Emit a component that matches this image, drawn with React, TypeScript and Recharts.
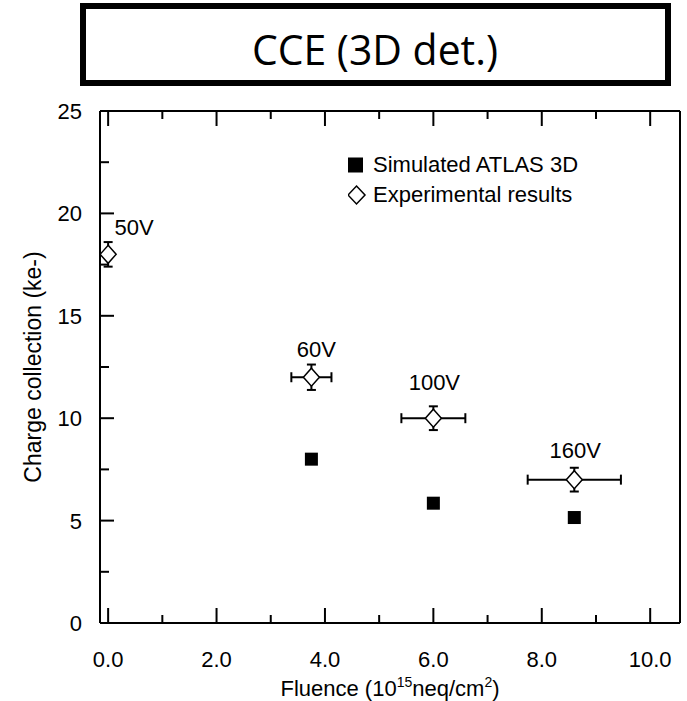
import React from 'react';
import { ScatterChart, Scatter, XAxis, YAxis, ErrorBar, Legend, Label } from 'recharts';

// simulated (ATLAS 3D)
const SIM_FLUENCE = [3.75, 6.0, 8.6];
const SIM_CHARGE = [8.0, 5.85, 5.15];

// measured
const EXP_FLUENCE = [0, 3.75, 6.0, 8.6];
const EXP_CHARGE = [18.0, 12.0, 10.0, 7.0];
const EXP_FLUENCE_ERR = [0, 0.37, 0.59, 0.86];
const EXP_CHARGE_ERR = [0.6, 0.62, 0.58, 0.58];
const BIAS_LABELS = ['50V', '60V', '100V', '160V'];

const X_TICKS = [0, 1, 2, 3, 4, 5, 6, 7, 8, 9, 10];
const Y_TICKS = [0, 2.5, 5, 7.5, 10, 12.5, 15, 17.5, 20, 22.5, 25];

const SERIES_NAMES = ['Simulated ATLAS 3D', 'Experimental results'];

// label offsets (px) from the marker centre
const LABEL_OFFSETS = [
  [26, -27],
  [5, -28],
  [1, -36],
  [1, -30],
];

const FONT = '"Liberation Sans", Arial, sans-serif';
const FS = 22;

const simData = SIM_FLUENCE.map((x, i) => ({ x, y: SIM_CHARGE[i] }));
const expData = EXP_FLUENCE.map((x, i) => ({
  x,
  y: EXP_CHARGE[i],
  xErr: EXP_FLUENCE_ERR[i],
  yErr: EXP_CHARGE_ERR[i],
  label: BIAS_LABELS[i],
  idx: i,
}));

const fmtX = (v: number) => v.toFixed(1);

function BottomTick({ x, y, payload }: any) {
  const major = payload.value % 2 === 0;
  return (
    <g>
      <line x1={x} x2={x} y1={y} y2={y - (major ? 15 : 8)} stroke="#000" strokeWidth={2} />
      {major && (
        <text x={x} y={y + 44} textAnchor="middle" fontSize={FS} fontFamily={FONT} fill="#000">
          {fmtX(payload.value)}
        </text>
      )}
    </g>
  );
}

function TopTick({ x, y, payload }: any) {
  const major = payload.value % 2 === 0;
  return <line x1={x} x2={x} y1={y} y2={y + (major ? 15 : 8)} stroke="#000" strokeWidth={2} />;
}

function LeftTick({ x, y, payload }: any) {
  const major = payload.value % 5 === 0;
  return (
    <g>
      <line x1={x} x2={x + (major ? 14 : 9)} y1={y} y2={y} stroke="#000" strokeWidth={2} />
      {major && (
        <text x={x - 18} y={y + 8} textAnchor="end" fontSize={FS} fontFamily={FONT} fill="#000">
          {payload.value}
        </text>
      )}
    </g>
  );
}

function RightTick({ x, y, payload }: any) {
  const major = payload.value % 5 === 0;
  return <line x1={x} x2={x - (major ? 14 : 9)} y1={y} y2={y} stroke="#000" strokeWidth={2} />;
}

function SquareShape({ cx, cy }: any) {
  return <rect x={cx - 6.5} y={cy - 6.5} width={13} height={13} fill="#000" />;
}

function DiamondShape({ cx, cy, payload }: any) {
  const [dx, dy] = LABEL_OFFSETS[payload.idx];
  return (
    <g>
      <polygon
        points={`${cx},${cy - 9} ${cx + 8},${cy} ${cx},${cy + 9} ${cx - 8},${cy}`}
        fill="#fff"
        stroke="#000"
        strokeWidth={1.5}
      />
      <text
        x={cx + dx}
        y={cy + dy + 8}
        textAnchor="middle"
        fontSize={FS}
        fontFamily={FONT}
        fill="#000"
      >
        {payload.label}
      </text>
    </g>
  );
}

function LegendBox() {
  return (
    <div style={{ fontFamily: FONT, fontSize: FS, color: '#000', lineHeight: '30px', whiteSpace: 'nowrap' }}>
      <div style={{ display: 'flex', alignItems: 'center', height: 30 }}>
        <svg width={25} height={30}>
          <rect x={0} y={7.5} width={15} height={15} fill="#000" />
        </svg>
        <span>{SERIES_NAMES[0]}</span>
      </div>
      <div style={{ display: 'flex', alignItems: 'center', height: 30 }}>
        <svg width={25} height={30}>
          <polygon points="8.5,6 17,15 8.5,24 0,15" fill="#fff" stroke="#000" strokeWidth={1.5} />
        </svg>
        <span>{SERIES_NAMES[1]}</span>
      </div>
    </div>
  );
}

function XTitle({ viewBox }: any) {
  const cx = viewBox.x + viewBox.width / 2;
  return (
    <text x={cx} y={viewBox.y + 73} textAnchor="middle" fontSize={FS} fontFamily={FONT} fill="#000">
      Fluence (10
      <tspan fontSize={14} dy={-9}>15</tspan>
      <tspan dy={9}>neq/cm</tspan>
      <tspan fontSize={14} dy={-9}>2</tspan>
      <tspan dy={9}>)</tspan>
    </text>
  );
}

function YTitle({ viewBox }: any) {
  const cy = viewBox.y + viewBox.height / 2;
  return (
    <text
      x={33}
      y={cy}
      transform={`rotate(-90, 33, ${cy})`}
      textAnchor="middle"
      dominantBaseline="central"
      fontSize={23}
      fontFamily={FONT}
      fill="#000"
    >
      Charge collection (ke-)
    </text>
  );
}

export default function App() {
  return (
    <div style={{ position: 'absolute', left: 0, top: 0, width: 687, height: 701, background: '#fff' }}>
      <div
        style={{
          position: 'absolute',
          left: 80,
          top: 3,
          width: 591,
          height: 83,
          border: '6px solid #000',
          boxSizing: 'border-box',
        }}
      />
      <svg style={{ position: 'absolute', left: 0, top: 0 }} width={687} height={90}>
        <text
          x={375}
          y={65}
          textAnchor="middle"
          fontSize={42}
          fontFamily='"Open Sans", "Noto Sans", sans-serif'
          textLength={246}
          lengthAdjust="spacingAndGlyphs"
          fill="#000"
        >
          CCE (3D det.)
        </text>
      </svg>
      <div style={{ position: 'absolute', left: 0, top: 90 }}>
        <ScatterChart width={687} height={611} margin={{ top: 11, right: 0, bottom: 0, left: 0 }}>
          <XAxis
            xAxisId="b"
            type="number"
            dataKey="x"
            domain={[-0.15, 10.55]}
            ticks={X_TICKS}
            interval={0}
            height={78}
            tickSize={0}
            tickMargin={0}
            tickLine={false}
            axisLine={{ stroke: '#000', strokeWidth: 2 }}
            tick={<BottomTick />}
            allowDataOverflow
          >
            <Label content={<XTitle />} />
          </XAxis>
          <XAxis
            xAxisId="t"
            orientation="top"
            type="number"
            dataKey="x"
            domain={[-0.15, 10.55]}
            ticks={X_TICKS}
            interval={0}
            height={10}
            tickSize={0}
            tickMargin={0}
            tickLine={false}
            axisLine={{ stroke: '#000', strokeWidth: 2 }}
            tick={<TopTick />}
            allowDataOverflow
          />
          <YAxis
            yAxisId="l"
            type="number"
            dataKey="y"
            domain={[0, 25]}
            ticks={Y_TICKS}
            interval={0}
            width={100}
            tickSize={0}
            tickMargin={0}
            tickLine={false}
            axisLine={{ stroke: '#000', strokeWidth: 2 }}
            tick={<LeftTick />}
          >
            <Label content={<YTitle />} />
          </YAxis>
          <YAxis
            yAxisId="r"
            orientation="right"
            type="number"
            dataKey="y"
            domain={[0, 25]}
            ticks={Y_TICKS}
            interval={0}
            width={7}
            tickSize={0}
            tickMargin={0}
            tickLine={false}
            axisLine={{ stroke: '#000', strokeWidth: 2 }}
            tick={<RightTick />}
          />
          <Legend
            layout="vertical"
            align="center"
            verticalAlign="middle"
            content={<LegendBox />}
            wrapperStyle={{ left: 348, top: 60, width: 300 }}
          />
          <Scatter
            name={SERIES_NAMES[0]}
            data={simData}
            xAxisId="b"
            yAxisId="l"
            shape={<SquareShape />}
            isAnimationActive={false}
          />
          <Scatter
            name={SERIES_NAMES[1]}
            data={expData}
            xAxisId="b"
            yAxisId="l"
            shape={<DiamondShape />}
            isAnimationActive={false}
          >
            <ErrorBar dataKey="xErr" direction="x" width={5} strokeWidth={2} stroke="#000" />
            <ErrorBar dataKey="yErr" direction="y" width={4.5} strokeWidth={2} stroke="#000" />
          </Scatter>
        </ScatterChart>
      </div>
    </div>
  );
}
